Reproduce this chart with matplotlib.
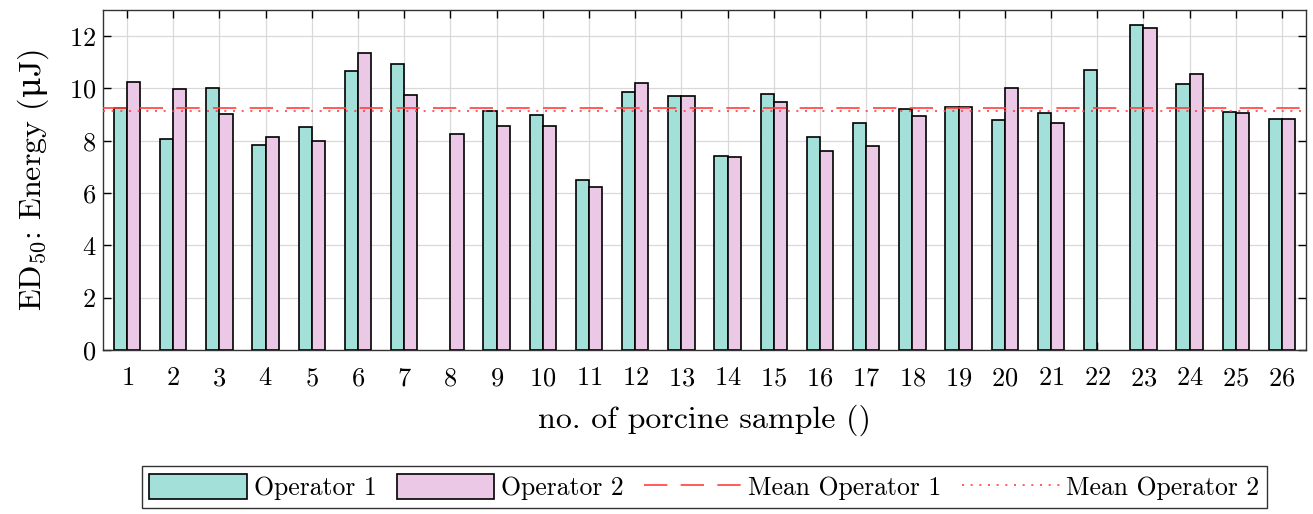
import numpy as np
import matplotlib
matplotlib.use("Agg")
import matplotlib.pyplot as plt

plt.rcParams['font.family'] = 'serif'
plt.rcParams['font.serif'] = ['cmr10', 'DejaVu Serif']
plt.rcParams['mathtext.fontset'] = 'custom'
plt.rcParams['mathtext.rm'] = 'cmr10'
plt.rcParams['mathtext.it'] = 'cmmi10'
plt.rcParams['mathtext.sf'] = 'DejaVu Serif'
plt.rcParams['axes.formatter.use_mathtext'] = True

# data
samples = np.arange(1, 27)
operator1 = [9.27, 8.06, 10.01, 7.83, 8.53, 10.66, 10.92, np.nan, 9.13, 9.00,
             6.51, 9.88, 9.72, 7.40, 9.80, 8.13, 8.67, 9.23, 9.29, 8.78,
             9.08, 10.71, 12.43, 10.16, 9.12, 8.85]
operator2 = [10.26, 9.97, 9.04, 8.14, 7.99, 11.34, 9.74, 8.26, 8.55, 8.58,
             6.22, 10.21, 9.72, 7.39, 9.50, 7.62, 7.79, 8.94, 9.31, 10.01,
             8.69, np.nan, 12.33, 10.57, 9.06, 8.85]
mean_op1 = 9.24
mean_op2 = 9.13

teal = '#a4e0da'
pink = '#ebc9e6'
red = '#ff4040'

fig = plt.figure(figsize=(13.13, 5.14), dpi=100)
ax = fig.add_axes([0.0785, 0.319, 0.9162, 0.6615])

w = 0.2857
b1 = ax.bar(samples - w / 2, operator1, width=w, color=teal, edgecolor='black',
            linewidth=1.2, label='Operator 1', zorder=3)
b2 = ax.bar(samples + w / 2, operator2, width=w, color=pink, edgecolor='black',
            linewidth=1.2, label='Operator 2', zorder=3)

l1 = ax.axhline(mean_op1, color=red, linewidth=1.2, dashes=(14, 8),
                label='Mean Operator 1', zorder=4)
l2 = ax.axhline(mean_op2, color=red, linewidth=1.2, dashes=(1.2, 4),
                label='Mean Operator 2', zorder=4)

ax.set_xlim(0.48, 26.52)
ax.set_ylim(0, 13)
ax.set_xticks(samples)
ax.set_yticks(np.arange(0, 13, 2))
ax.tick_params(direction='in', length=6, width=1, labelsize=19,
               top=True, right=True)
ax.tick_params(axis='x', pad=12)
ax.tick_params(axis='y', pad=5)
ax.grid(True, color='#d9d9d9', linewidth=0.9, zorder=0)
ax.set_axisbelow(True)
for s in ax.spines.values():
    s.set_linewidth(1.0)
    s.set_color('#333333')

ax.set_xlabel('no. of porcine sample ()', fontsize=23, labelpad=10)
ax.set_ylabel(r'ED$_{50}$: Energy ($\mathsf{\mu}$J)', fontsize=23, labelpad=13)

leg = fig.legend([b1, b2, l1, l2],
                 ['Operator 1', 'Operator 2', 'Mean Operator 1', 'Mean Operator 2'],
                 loc='center', bbox_to_anchor=(0.5364, 0.0525),
                 ncol=4, fontsize=18.5, frameon=True, fancybox=False,
                 edgecolor='black', handlelength=3.8, handleheight=1.15,
                 columnspacing=0.8, handletextpad=0.25, borderpad=0.3,
                 borderaxespad=0)
leg.get_frame().set_linewidth(1.0)

fig.savefig('out.png', dpi=100)
